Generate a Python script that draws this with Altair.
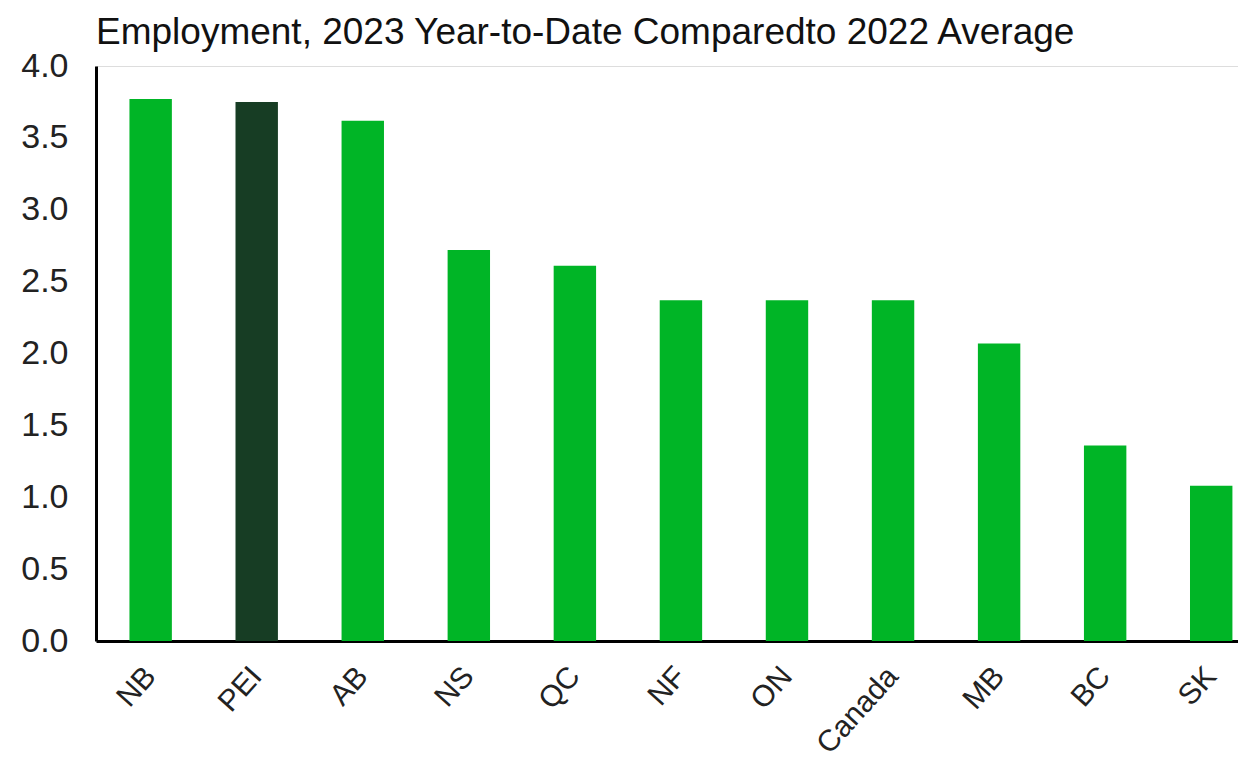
import altair as alt
import pandas as pd

regions = ["NB", "PEI", "AB", "NS", "QC", "NF", "ON", "Canada", "MB", "BC", "SK"]
values = [3.77, 3.75, 3.62, 2.72, 2.61, 2.37, 2.37, 2.37, 2.07, 1.36, 1.08]
y_ticks = [0.0, 0.5, 1.0, 1.5, 2.0, 2.5, 3.0, 3.5, 4.0]

df = pd.DataFrame({"region": regions, "value": values})

FONT = "Liberation Sans"

chart = (
    alt.Chart(df)
    .mark_bar()
    .encode(
        x=alt.X(
            "region:N",
            sort=regions,
            title=None,
            scale=alt.Scale(paddingInner=0.6, paddingOuter=0.184, align=0.857),
            axis=alt.Axis(
                labelAngle=-48,
                labelFontSize=30,
                labelFont=FONT,
                labelColor="#222222",
                labelPadding=30,
                ticks=False,
                grid=False,
                domainColor="#000000",
                domainWidth=3,
            ),
        ),
        y=alt.Y(
            "value:Q",
            title=None,
            scale=alt.Scale(domain=[0, 4], nice=False),
            axis=alt.Axis(
                values=y_ticks,
                format=".1f",
                labelFontSize=34,
                labelFont=FONT,
                labelColor="#222222",
                labelPadding=28,
                ticks=False,
                grid=False,
                domainColor="#000000",
                domainWidth=3,
            ),
        ),
        color=alt.condition(
            alt.datum.region == "PEI", alt.value("#173D24"), alt.value("#00B526")
        ),
    )
    .properties(
        width=1142,
        height=575,
        title=alt.TitleParams(
            "Employment, 2023 Year-to-Date Comparedto 2022 Average",
            anchor="start",
            frame="group",
            font=FONT,
            fontSize=37,
            fontWeight="normal",
            color="#111111",
            offset=-3,
        ),
        autosize=alt.AutoSizeParams(type="none"),
        padding={"left": 88, "top": 58, "right": 0, "bottom": 122},
    )
    .configure_view(stroke="#ffffff", strokeWidth=0, fill="#ffffff")
    .configure_axis(grid=False)
    .configure(background="white")
)

chart.save("out.html", embed_options={"renderer": "svg", "actions": False})
